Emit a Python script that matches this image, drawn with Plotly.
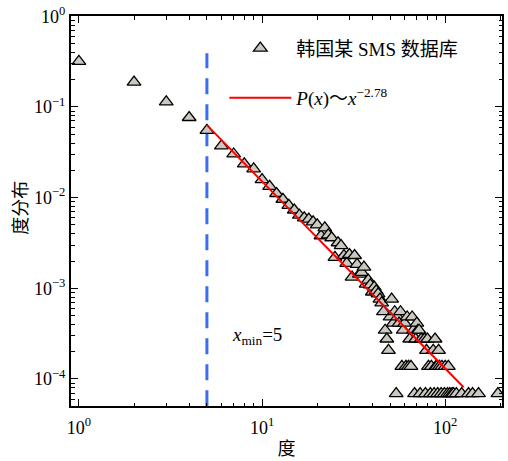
import plotly.graph_objects as go

# Degree distribution of a Korean SMS dataset (log-log)
degree = [1, 2, 3, 4, 5, 6, 7, 8, 9,
          10, 11, 12, 13, 14, 15, 16, 17, 18, 19, 20,
          21, 22, 23, 24, 25, 26, 27, 28, 29, 30,
          31, 32, 33, 34, 35, 36, 37, 38, 39, 40,
          41, 42, 43, 44, 45, 46, 47, 48, 49, 50,
          51, 52, 53, 54, 55, 56, 57, 58, 59, 60,
          61, 62, 63, 64, 65, 66, 67, 68, 69, 70,
          71, 72, 73, 74, 77, 78, 79, 80, 81, 83,
          84, 86, 87, 88, 89, 90, 91, 92, 93, 95,
          96, 99, 100, 103, 104, 106, 109, 111, 115, 123,
          134, 141, 152, 194]
prob = [0.318, 0.188, 0.114, 0.0765, 0.0552, 0.0373, 0.0303, 0.0236, 0.0208,
        0.0158, 0.0133, 0.0111, 0.0096, 0.0082, 0.0073, 0.0064, 0.0060, 0.0058, 0.0054, 0.0050,
        0.0038, 0.00464, 0.00389, 0.00361, 0.00219, 0.00318, 0.00296, 0.00230, 0.00188, 0.00236,
        0.00133, 0.00230, 0.00184, 0.00143, 0.00150, 0.00171, 0.00111, 0.00123, 0.00109, 0.00091,
        0.00103, 0.00094, 0.00087, 0.000759, 0.00069, 0.000552, 0.000345, 0.000276, 0.000207, 0.000483,
        0.000759, 0.000414, 0.000552, 0.000069, 0.000483, 0.000414, 0.000552, 0.000138, 0.000345, 0.000414,
        0.000138, 0.000483, 0.000138, 0.000276, 0.000138, 0.000483, 0.000345, 0.000069, 0.000276, 0.000414,
        0.000345, 0.000345, 0.000069, 0.000276, 0.000276, 0.000069, 0.000207, 0.000276, 0.000138, 0.000069,
        0.000138, 0.000207, 0.000069, 0.000276, 0.000138, 0.000138, 0.000069, 0.000207, 0.000138, 0.000069,
        0.000138, 0.000069, 0.000138, 0.000069, 0.000138, 0.000069, 0.000069, 0.000069, 0.000069, 0.000069,
        0.000069, 0.000069, 0.000069, 0.000069]

# Power-law fit line endpoints
fit_x = [5, 126]
fit_y = [0.063, 8.1e-5]

# Cutoff marker
xmin_value = 5
xmin_span = [5e-5, 0.39]

x_tickvals = [1, 10, 100]
x_ticktext = ["10<sup>0</sup>", "10<sup>1</sup>", "10<sup>2</sup>"]
y_tickvals = [1, 0.1, 0.01, 0.001, 0.0001]
y_ticktext = ["10<sup>0</sup>", "10<sup>\u22121</sup>", "10<sup>\u22122</sup>",
              "10<sup>\u22123</sup>", "10<sup>\u22124</sup>"]

FONT = "Liberation Serif, Noto Sans CJK SC, serif"

fig = go.Figure()

fig.add_trace(go.Scatter(
    x=[xmin_value, xmin_value], y=xmin_span, mode="lines",
    line=dict(color="#3a6cf4", width=3, dash="16px,10px"),
    showlegend=False, hoverinfo="skip"))

fig.add_trace(go.Scatter(
    x=degree, y=prob, mode="markers", name="韩国某 SMS 数据库",
    legendgroup="a",
    marker=dict(symbol="triangle-up", size=12, color="#cbc8c0",
                line=dict(color="black", width=1.3))))

fig.add_trace(go.Scatter(
    x=fit_x, y=fit_y, mode="lines",
    name="<i>P</i>(<i>x</i>)～<i>x</i><sup>\u22122.78</sup>",
    legendgroup="b",
    line=dict(color="#ff0000", width=2)))

fig.add_annotation(
    x=0.973, y=-3.53, xref="x", yref="y",
    text="<i>x</i><sub>min</sub>=5", showarrow=False,
    font=dict(family=FONT, size=19, color="black"))

# y-axis title placed beside the tick labels
fig.add_annotation(
    x=-0.116, y=0.5085, xref="paper", yref="paper",
    text="度分布", textangle=-90, showarrow=False,
    xanchor="center", yanchor="middle",
    font=dict(family=FONT, size=18, color="black"))

axis_common = dict(
    type="log", showgrid=False, zeroline=False,
    showline=True, linecolor="black", linewidth=2, mirror="ticks",
    ticks="inside", ticklen=7, tickwidth=1, tickcolor="black",
    minor=dict(ticks="inside", ticklen=3.5, tickwidth=1, tickcolor="black",
               showgrid=False, dtick="D1"),
    tickfont=dict(family=FONT, size=18, color="black"),
    ticklabeloverflow="allow",
)

fig.update_xaxes(
    **axis_common, range=[-0.043, 2.31],
    tickvals=x_tickvals, ticktext=x_ticktext, ticklabelstandoff=4,
    title=dict(text="度", font=dict(family=FONT, size=18, color="black"), standoff=6))
fig.update_yaxes(
    **axis_common, range=[-4.298, 0.003],
    tickvals=y_tickvals, ticktext=y_ticktext, ticklabelstandoff=0)

fig.update_layout(
    width=508, height=461,
    margin=dict(l=71, r=4, t=11, b=55),
    paper_bgcolor="white", plot_bgcolor="white",
    font=dict(family=FONT, size=19, color="black"),
    legend=dict(x=0.3557, y=0.966, xanchor="left", yanchor="top",
                bgcolor="rgba(0,0,0,0)", borderwidth=0,
                itemwidth=62, tracegroupgap=22,
                font=dict(family=FONT, size=19, color="black")),
)

fig.write_html("out.html")
